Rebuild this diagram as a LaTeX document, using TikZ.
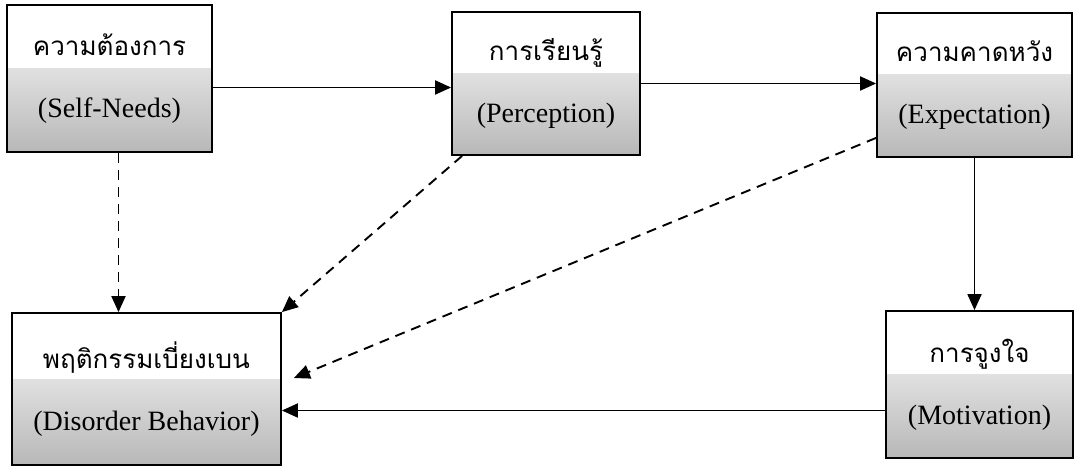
\documentclass[tikz,border=0pt]{standalone}
\usepackage{fontspec}
\setmainfont{Liberation Serif}
\newfontfamily\thaifont[Script=Thai]{Loma}
\usetikzlibrary{arrows.meta}

\begin{document}
\begin{tikzpicture}[
    x=1pt, y=-1pt,
    box/.style={
        rectangle, draw, line width=1.8pt,
        text centered, align=center,
        font=\fontsize{28}{62}\selectfont,
        path picture={\shade[top color=white, bottom color=black!28]
            ([yshift=10pt]path picture bounding box.west) rectangle (path picture bounding box.south east);}
    },
    arr/.style={-{Triangle[length=16pt, width=14pt]}, line width=1.9pt},
    darr/.style={arr, dash pattern=on 10pt off 7pt},
]
\useasboundingbox (0,0) rectangle (1075,468);

%% Row 1: needs, perception, expectation
\node[box, minimum width=205pt, minimum height=147pt] (need) at (109.5,78.5)
    {{\thaifont\fontsize{26}{62}\selectfont ความต้องการ}\\(Self-Needs)};
\node[box, minimum width=188pt, minimum height=143pt] (learn) at (546,83.5)
    {{\thaifont\fontsize{26}{62}\selectfont การเรียนรู้}\\(Perception)};
\node[box, minimum width=195pt, minimum height=144pt] (expect) at (974.5,85)
    {{\thaifont\fontsize{26}{62}\selectfont ความคาดหวัง}\\(Expectation)};

%% Row 2: disorder behaviour, motivation
\node[box, minimum width=269pt, minimum height=152pt] (disorder) at (146.5,389)
    {{\thaifont\fontsize{26}{62}\selectfont พฤติกรรมเบี่ยงเบน}\\(Disorder Behavior)};
\node[box, minimum width=187pt, minimum height=147pt] (motiv) at (979.5,384.5)
    {{\thaifont\fontsize{26}{62}\selectfont การจูงใจ}\\(Motivation)};

%% Solid arrows
\draw[arr] ([yshift=-9pt]need.east) -- ([yshift=-9pt]need.east -| learn.west);
\draw[arr] (learn.east) -- (learn.east -| expect.west);
\draw[arr] (expect.south) -- (expect.south |- motiv.north);
\draw[arr] ([yshift=-26pt]motiv.west) -- ([yshift=-26pt]motiv.west -| disorder.east);

%% Dashed arrows into disorder behaviour
\draw[darr] ([xshift=9pt]need.south) -- ([xshift=9pt]need.south |- disorder.north);
\draw[darr] ([xshift=11pt]learn.south west) -- (disorder.north east);
\draw[darr] ([yshift=20pt]expect.south west) -- ([shift={(12,-11)}]disorder.east);

\end{tikzpicture}
\end{document}
